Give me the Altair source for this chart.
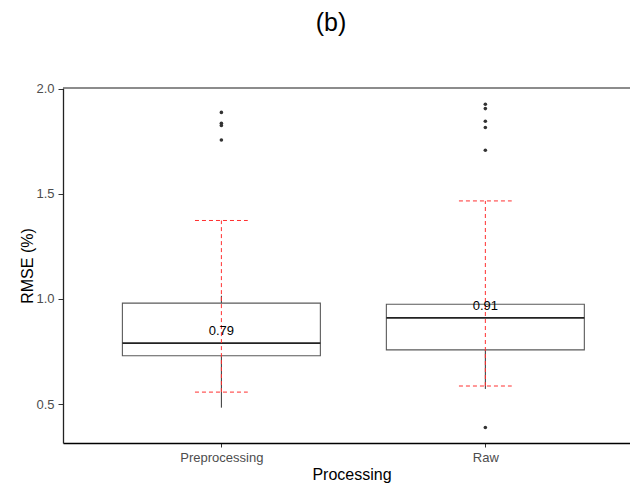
import json

import altair as alt
import pandas as pd

# Box-plot summary per processing group (RMSE in %)
groups = ["Preprocessing", "Raw"]
positions = [1, 2]
q1 = [0.730, 0.758]
median = [0.79, 0.91]
q3 = [0.980, 0.975]
whisker_low = [0.483, 0.572]
whisker_high = [1.015, 0.975]
# dashed red error-bar limits
band_low = [0.557, 0.586]
band_high = [1.373, 1.466]

# points beyond the whiskers
outlier_group = ["Preprocessing"] * 4 + ["Raw"] * 6
outlier_value = [1.887, 1.835, 1.825, 1.756,
                 1.926, 1.905, 1.845, 1.815, 1.707, 0.389]

y_ticks = [0.5, 1.0, 1.5, 2.0]

BOX_HALF = 0.375   # half box width in x units
CAP_HALF = 0.10    # half error-bar cap width

FONT = "Liberation Sans"
W, H = 567, 355

box_df = pd.DataFrame({
    "group": groups,
    "pos": positions,
    "q1": q1,
    "median": median,
    "q3": q3,
    "wlo": whisker_low,
    "whi": whisker_high,
    "blo": band_low,
    "bhi": band_high,
})
box_df["x_left"] = box_df["pos"] - BOX_HALF
box_df["x_right"] = box_df["pos"] + BOX_HALF
box_df["cap_left"] = box_df["pos"] - CAP_HALF
box_df["cap_right"] = box_df["pos"] + CAP_HALF
box_df["label"] = [f"{m:.2f}" for m in median]

pos_of = dict(zip(groups, positions))
out_df = pd.DataFrame({
    "group": outlier_group,
    "pos": [pos_of[g] for g in outlier_group],
    "value": outlier_value,
})

xs = alt.Scale(domain=[0.4, 2.548], nice=False, zero=False)
ys = alt.Scale(domain=[0.315, 2.003], nice=False, zero=False)

label_expr = f"{json.dumps(groups)}[datum.value - 1]"

x_axis = alt.Axis(
    values=positions, labelExpr=label_expr, title="Processing", grid=False,
    domainColor="black", domainWidth=1.6, tickColor="#333333", tickSize=4,
    labelPadding=4, labelFontSize=13, labelColor="#4D4D4D", labelFont=FONT,
    labelFlush=False, labelOverlap=False,
    titleFont=FONT, titleFontSize=16, titleFontWeight="normal", titleColor="black",
    titleX=288.5, titleY=36.5, titleBaseline="alphabetic", titleAlign="center",
)
y_axis = alt.Axis(
    values=y_ticks, format=".1f", title="RMSE (%)", grid=False,
    domainColor="#222222", domainWidth=1.3, tickColor="#333333", tickSize=5,
    labelPadding=4, labelFontSize=13, labelColor="#4D4D4D", labelFont=FONT,
    titleFont=FONT, titleFontSize=16, titleFontWeight="normal", titleColor="black",
    titleX=-30.5, titleY=177.5, titleAngle=270, titleBaseline="alphabetic",
    titleAlign="center",
)

base = alt.Chart(box_df)

whisker_lo = base.mark_rule(color="#333333", strokeWidth=1).encode(
    x=alt.X("pos:Q", scale=xs, axis=x_axis),
    y=alt.Y("wlo:Q", scale=ys, axis=y_axis),
    y2="q1:Q",
)
whisker_hi = base.mark_rule(color="#333333", strokeWidth=1).encode(
    x=alt.X("pos:Q", scale=xs), y=alt.Y("q3:Q", scale=ys), y2="whi:Q"
)
box = base.mark_rect(fill="white", stroke="#5A5A5A", strokeWidth=1.1).encode(
    x=alt.X("x_left:Q", scale=xs), x2="x_right:Q",
    y=alt.Y("q1:Q", scale=ys), y2="q3:Q",
)
mid = base.mark_rule(color="#222222", strokeWidth=1.8).encode(
    x=alt.X("x_left:Q", scale=xs), x2="x_right:Q", y=alt.Y("median:Q", scale=ys)
)

RED = "#FF3030"
DASH = [4, 3]
band_line = base.mark_rule(color=RED, strokeDash=DASH, strokeWidth=1).encode(
    x=alt.X("pos:Q", scale=xs), y=alt.Y("blo:Q", scale=ys), y2="bhi:Q"
)
cap_lo = base.mark_rule(color=RED, strokeDash=DASH, strokeWidth=1).encode(
    x=alt.X("cap_left:Q", scale=xs), x2="cap_right:Q", y=alt.Y("blo:Q", scale=ys)
)
cap_hi = base.mark_rule(color=RED, strokeDash=DASH, strokeWidth=1).encode(
    x=alt.X("cap_left:Q", scale=xs), x2="cap_right:Q", y=alt.Y("bhi:Q", scale=ys)
)

labels = base.mark_text(
    dy=-12, fontSize=13, font=FONT, color="black", baseline="middle"
).encode(x=alt.X("pos:Q", scale=xs), y=alt.Y("median:Q", scale=ys), text="label:N")

points = alt.Chart(out_df).mark_circle(size=13, color="#333333", opacity=1).encode(
    x=alt.X("pos:Q", scale=xs), y=alt.Y("value:Q", scale=ys)
)

top_line = alt.Chart(box_df).mark_rule(color="#666666", strokeWidth=1.2).encode(
    x=alt.value(0), x2=alt.value(W), y=alt.value(0)
)

chart = alt.layer(
    whisker_lo, whisker_hi, box, mid, band_line, cap_lo, cap_hi,
    labels, points, top_line,
).properties(
    width=W, height=H,
    title=alt.TitleParams(
        "(b)", font=FONT, fontSize=25, fontWeight="normal", color="black",
        anchor="middle", frame="group", baseline="alphabetic", offset=27, dx=-15.5,
    ),
    autosize=alt.AutoSizeParams(type="none"),
    padding={"left": 63, "top": 88, "right": 0, "bottom": 43},
    background="white",
).configure_view(stroke=None)

chart.save("out.html", embed_options={"renderer": "svg", "actions": False})
